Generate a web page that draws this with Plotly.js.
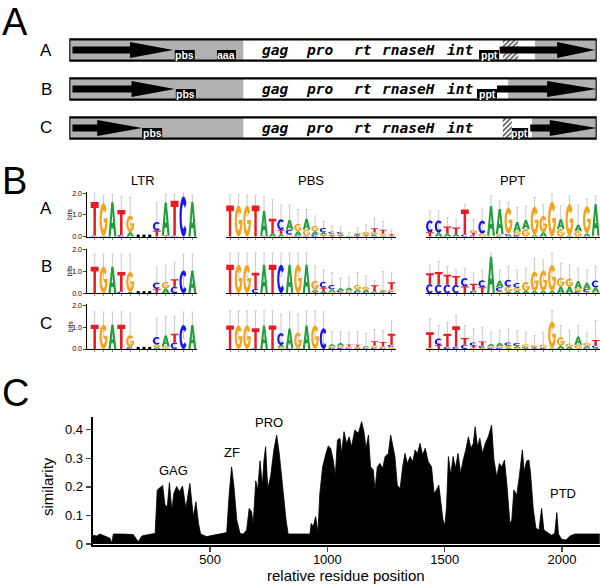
<!DOCTYPE html>
<html><head><meta charset="utf-8">
<script src="https://cdn.plot.ly/plotly-3.0.1.min.js"></script>
<style>html,body{margin:0;padding:0;background:#fff}#chart{width:600px;height:584px}</style>
</head><body><div id="chart"></div>
<script>
// ================= DATA =================
// Panel C: similarity profile
const posX = [0,17,31,52,74,81,88,130,173,194,209,237,266,275,287,298,308,318,327,337,346,358,369,383,397,414,429,440,451,460,485,514,542,571,582,592,602,614,628,642,656,667,677,684,695,703,713,723,730,737,746,758,772,784,795,809,824,833,869,926,931,940,950,960,968,980,994,1004,1014,1025,1034,1043,1054,
1061,1071,1082,1093,1103,1117,1132,1146,1156,1165,1175,1184,1196,1203,1213,1224,1236,1246,1260,1270,1279,1288,1298,1310,1321,1331,1341,1353,1364,1374,1384,1395,1406,1417,1430,1444,1455,1465,1475,1484,1493,1501,1508,1516,1526,1536,1546,1557,1568,1579,1590,1601,1612,1622,1630,1640,1650,1661,1673,1686,1700,1710,1722,1733,1744,1755,1766,1778,1786,1795,1807,1818,1831,1839,1849,1859,1866,1878,1889,1902,1913,1923,1937,1955,1969,1978,1985,1998,2017,2034,2055,2161];
const simY = [0.031,0.028,0.035,0.028,0.02,0.003,0.035,0.035,0.033,0.008,0.028,0.033,0.037,0.189,0.198,0.205,0.137,0.131,0.215,0.119,0.178,0.201,0.183,0.203,0.125,0.212,0.096,0.148,0.072,0.035,0.026,0.03,0.035,0.04,0.178,0.27,0.2,0.084,0.037,0.035,0.049,0.125,0.113,0.072,0.221,0.189,0.291,0.206,0.294,0.34,0.194,0.235,0.329,0.381,0.317,0.201,0.084,0.035,0.035,0.035,0.072,0.061,0.096,0.043,0.178,0.27,0.317,0.343,0.335,0.294,0.24,0.364,0.37,
0.317,0.393,0.352,0.375,0.34,0.399,0.387,0.428,0.393,0.335,0.381,0.27,0.259,0.189,0.27,0.282,0.265,0.306,0.317,0.381,0.34,0.306,0.206,0.194,0.27,0.317,0.282,0.306,0.288,0.329,0.317,0.352,0.311,0.335,0.288,0.27,0.178,0.189,0.206,0.142,0.084,0.066,0.131,0.306,0.242,0.306,0.265,0.317,0.248,0.294,0.329,0.375,0.335,0.352,0.41,0.34,0.37,0.317,0.352,0.375,0.416,0.294,0.235,0.282,0.27,0.294,0.201,0.072,0.084,0.189,0.171,0.235,0.329,0.253,0.29,0.294,0.248,0.119,0.055,0.049,0.125,0.049,0.04,0.031,0.037,0.11,0.035,0.017,0.014,0.028,0.035,0.035];
const simXTicks = [500,1000,1500,2000];
const simYTicks = [0,0.1,0.2,0.3,0.4];
const simYTickText = ['0','0.1','0.2','0.3','0.4'];
const domainNames = ['GAG','ZF','PRO','RT','RNaseH','INT','PTD'];
const domainX = [343,592,752,1079,1323,1679,2005];
const domainY = [0.256,0.321,0.425,0.465,0.451,0.462,0.178];

// Panel A: element maps (positions in % of element length)
const rowNames = ['A','B','C'];
const ltr5End = [33.0,33.0,33.0];
const ltr3Start = [88.3,83.2,87.7];
const arrow5 = [[0.6,11.5,19.7],[0.6,11.8,20.0],[0.6,5.3,13.8]];   // shaft start, head start, tip
const arrow3 = [[81.6,92.5,99.7],[81.1,90.6,100],[87.4,91.1,100]];
const pbsBox = [[20.0,23.8],[20.2,24.0],[13.8,17.6]];
const pptBox = [[77.7,81.5],[77.3,81.1],[83.9,87.0]];
const aaaBox = [[28.0,31.6],null,null];
const hatchBox = [[82.2,85.1],null,[82.2,83.9]];
const geneNames = ['gag','pro','rt','rnaseH','int'];
const genePos = [39.0,47.5,55.7,64.4,74.1];

// Panel B: sequence logos (bits per base per column)
const logoTitles = ['LTR','PBS','PPT'];
const ltrA = [{T:1.55,C:0.05},{G:1.5,A:0.04},{A:1.58},{T:1.15,C:0.08},{G:0.77,A:0.2},{},{},{C:0.4,T:0.28},{A:1.52,T:0.05},{T:1.6,C:0.05},{C:1.85},{A:1.6}];
const ltrB = [{T:1.22},{G:1.22},{A:1.22},{T:0.9,C:0.08},{G:0.92,A:0.06},{},{},{C:0.3,T:0.2},{G:0.3,A:0.22},{T:0.35,C:0.3},{C:1.05},{A:1.05}];
const ltrC = [{T:1.12},{G:1.12},{A:1.12},{T:1.12},{G:0.55,C:0.08},{},{},{C:0.35,G:0.12,A:0.08},{A:0.5,G:0.12},{T:0.4,C:0.3},{C:1.1},{A:1.1}];
const pbsA = [{T:1.43},{G:1.43},{G:1.43},{T:1.43},{A:1.15,T:0.03},{T:0.65,A:0.17},{C:0.5,T:0.2,A:0.1},{A:0.45,C:0.22,G:0.1},{G:0.35,A:0.2,C:0.05},{A:0.5,G:0.27,C:0.05},{G:0.25,A:0.15,C:0.1},{C:0.2,A:0.1,T:0.05,G:0.05},{C:0.08,G:0.07,A:0.05,T:0.03},{C:0.07,G:0.06,A:0.05,T:0.04},{A:0.02,G:0.01},{A:0.05,G:0.05,C:0.04,T:0.03},{G:0.12,T:0.05,A:0.05},{T:0.18,G:0.1,C:0.06,A:0.05},{T:0.18,G:0.08,A:0.06},{T:0.06,A:0.03,G:0.03}];
const pbsB = [{T:1.31},{G:1.31},{G:1.31},{T:0.75,C:0.2},{A:1.31},{T:1.31},{C:1.31},{A:1.31},{G:1.31},{A:1.31},{G:0.4,A:0.12,T:0.06},{C:0.28,T:0.15,A:0.1},{C:0.2,A:0.12,G:0.06},{A:0.12,C:0.06,G:0.05},{A:0.12,G:0.1,C:0.04},{G:0.2,A:0.12,C:0.06},{G:0.15,A:0.1,C:0.05},{T:0.28,A:0.05,C:0.04},{A:0.05,G:0.05,C:0.04,T:0.04},{T:0.33,G:0.1,C:0.08}];
const pbsC = [{T:1.08},{G:1.08},{G:1.08},{T:0.92,C:0.03},{A:1.08},{T:1.08},{C:0.55,A:0.1,G:0.08},{A:0.9,C:0.04},{G:0.72,A:0.04},{A:1.08},{G:1.08},{C:0.95},{A:0.1,G:0.07,C:0.05},{A:0.13,G:0.1,C:0.05},{T:0.1,G:0.08,C:0.03},{T:0.1,A:0.05,G:0.05},{A:0.05,C:0.04,G:0.04},{T:0.2,G:0.1,C:0.06},{T:0.2,G:0.08,C:0.04},{T:0.5,G:0.1,C:0.1}];
const pptA = [{C:0.55,T:0.2},{C:0.55,A:0.2},{T:0.32,A:0.15},{T:0.3,A:0.12},{T:1.15,C:0.1},{T:0.12,G:0.12,C:0.06},{C:0.6,G:0.14},{A:1.37,G:0.04},{A:1.15,G:0.08,C:0.04},{G:1.2,C:0.08,A:0.05},{A:0.45,G:0.15,C:0.08},{A:0.42,G:0.35},{G:1.3,A:0.08},{G:0.75,A:0.2},{G:1.6},{A:0.45,G:0.35},{G:1.45,A:0.05},{A:0.3,G:0.25},{G:1.25,A:0.15},{A:1.45,G:0.04}];
const pptB = [{T:0.5,C:0.42},{T:0.58,C:0.4},{T:0.45,C:0.4},{T:0.42,C:0.38},{C:0.38,T:0.32},{T:0.3,A:0.08,C:0.06},{C:0.32,T:0.28},{A:1.68},{A:0.3,C:0.2,G:0.08},{C:0.32,G:0.22,A:0.08},{C:0.22,G:0.15,A:0.1},{G:0.42,A:0.1},{G:0.9,A:0.1},{G:0.95,A:0.1},{G:1.2,A:0.1},{G:0.42,A:0.3},{G:0.38,A:0.3},{A:0.35,G:0.12,C:0.1},{A:0.28,C:0.15,G:0.05},{C:0.32,A:0.22,G:0.05}];
const pptC = [{T:0.72,G:0.05},{C:0.3,T:0.18},{T:0.6,C:0.1},{T:0.95,C:0.1},{T:0.3,C:0.2},{C:0.15,T:0.1,G:0.05},{T:0.2,C:0.1,G:0.05},{A:0.1,G:0.08,C:0.05},{A:0.15,G:0.08,C:0.05},{C:0.15,G:0.1,A:0.05},{C:0.15,A:0.08,G:0.05},{G:0.12,A:0.05,C:0.05},{G:0.06,C:0.05,A:0.04,T:0.03},{G:0.15,C:0.05},{G:1.22,A:0.04},{G:0.4,A:0.15},{G:0.15,A:0.1},{A:0.38,G:0.2},{G:0.15,A:0.1,C:0.04},{T:0.25,C:0.1,A:0.06}];
// error bar tops (bits)
const ltrAErr = [2.0,1.9,1.95,1.85,1.8,0,0,1.55,1.95,1.95,2.0,1.9];
const ltrBErr = [1.8,1.8,1.8,1.8,1.8,0,0,1.2,1.3,1.4,1.8,1.8];
const ltrCErr = [1.7,1.7,1.7,1.7,1.65,0,0,1.4,1.5,1.5,1.7,1.7];
const pbsAErr = [1.92,1.92,1.9,1.9,1.85,1.7,1.45,1.45,1.25,1.25,0.95,0.7,0.5,0.45,0.2,0.4,0.55,0.85,0.7,0.3];
const pbsBErr = [1.84,1.84,1.84,1.84,1.84,1.84,1.84,1.84,1.84,1.84,1.25,1.07,0.95,0.7,0.75,0.95,0.8,0.6,1.0,0.95];
const pbsCErr = [1.75,1.75,1.75,1.75,1.75,1.75,1.6,1.7,1.6,1.75,1.75,1.7,0.8,0.8,0.75,0.8,0.7,0.9,0.85,1.3];
const pptAErr = [1.18,1.18,0.88,0.8,1.49,0.8,1.26,1.87,1.64,1.57,1.34,1.41,1.8,1.49,1.95,1.41,1.87,1.45,1.72,1.87];
const pptBErr = [1.3,1.46,1.23,1.07,1.15,0.92,1.07,1.84,1.07,1.23,1.07,1.15,1.61,1.53,1.84,1.38,1.3,1.15,1.07,1.23];
const pptCErr = [1.38,1.07,1.23,1.54,1.07,0.92,1.0,0.77,0.85,0.92,0.85,0.77,0.61,0.77,1.77,1.07,0.85,1.07,0.77,1.3];
const gapDots = [5.9,6.55,7.2];

// ================= LAYOUT HELPERS =================
const W = 600, H = 584;
const fx = p => p / W, fy = p => 1 - p / H;
const FONT = 'Liberation Sans, Arial, sans-serif';
const letterColor = {A:'#1f9e3a', C:'#1a1ae8', G:'#f5a31a', T:'#e81c22'};

function arc(cx, cy, rx, ry, a0, a1, n) {
  const pts = [];
  for (let i = 0; i <= n; i++) {
    const a = (a0 + (a1 - a0) * i / n) * Math.PI / 180;
    pts.push([cx + rx * Math.cos(a), cy + ry * Math.sin(a)]);
  }
  return pts;
}
const GLYPH = {
  T: [[[0,1],[1,1],[1,0.82],[0.66,0.82],[0.66,0],[0.34,0],[0.34,0.82],[0,0.82]]],
  A: [[[0,0],[0.36,1],[0.64,1],[1,0],[0.72,0],[0.635,0.24],[0.365,0.24],[0.28,0]],[[0.41,0.4],[0.59,0.4],[0.5,0.72]]],
  C: [arc(.5,.5,.5,.5,42,318,28).concat(arc(.5,.5,.22,.3,318,42,28))],
  G: [arc(.5,.5,.5,.5,40,360,28).concat([[1,0.54],[0.52,0.54],[0.52,0.41],[0.73,0.41]], arc(.5,.5,.22,.3,330,40,28))]
};
function glyphPath(letter, xc, y0, h, w) {
  return GLYPH[letter].map(poly => poly.map((p, i) =>
    (i ? 'L' : 'M') + (xc - w/2 + p[0]*w).toFixed(4) + ',' + (y0 + p[1]*h).toFixed(4)).join(' ') + ' Z').join(' ');
}

const traces = [];
const shapes = [];
const annotations = [];
const layout = {
  width: W, height: H, margin: {l:0, r:0, t:0, b:0},
  paper_bgcolor: 'white', plot_bgcolor: 'rgba(0,0,0,0)',
  showlegend: false, font: {family: FONT, color: 'black'},
  shapes, annotations
};
const C_ = {xanchor:'center', yanchor:'middle', showarrow:false};

// ================= PANEL C =================
traces.push({type:'scatter', x: posX, y: simY, mode:'lines', line:{color:'black', width:0.8},
  fill:'tozeroy', fillcolor:'black', xaxis:'x', yaxis:'y', hoverinfo:'skip'});
layout.xaxis = {domain:[fx(92.7), 1], range:[0, 2162], anchor:'y', tickvals: simXTicks,
  ticks:'outside', ticklen:5, tickwidth:1.5, showline:true, linewidth:2, linecolor:'black', ticklabelstandoff:-4,
  tickfont:{size:13, family:FONT}, showgrid:false, zeroline:false, fixedrange:true};
layout.yaxis = {domain:[fy(544.9), fy(416.8)], range:[-0.003, 0.445], anchor:'x', tickvals: simYTicks,
  ticktext: simYTickText, ticks:'outside', ticklen:5, tickwidth:1.5, showline:true, linewidth:2,
  linecolor:'black', tickfont:{size:13, family:FONT}, showgrid:false, zeroline:false, fixedrange:true};
domainNames.forEach((n, i) => annotations.push(Object.assign({xref:'x', yref:'y', x: domainX[i], y: domainY[i],
  text: n, font:{size:13, family:FONT}}, C_)));
annotations.push(Object.assign({xref:'paper', yref:'paper', x: fx(346), y: fy(575.5), text:'relative residue position',
  font:{size:15, family:FONT}}, C_));
annotations.push(Object.assign({xref:'paper', yref:'paper', x: fx(48), y: fy(487), text:'similarity', textangle:-90,
  font:{size:15, family:FONT}}, C_));

// ================= PANEL A =================
layout.xaxis2 = {domain:[fx(69.3), fx(596.7)], range:[0,100], anchor:'y2', visible:false, fixedrange:true};
layout.yaxis2 = {domain:[fy(150), fy(30)], range:[-0.564, 2.513], anchor:'x2', visible:false, fixedrange:true};
const HH = 0.274, SH = 0.09, AH = 0.205, BOXB = -0.245;
const GRAY = '#b1b1b1';
rowNames.forEach((name, r) => {
  const yc = 2 - r;
  const ref = {xref:'x2', yref:'y2'};
  shapes.push(Object.assign({type:'rect', x0:0, x1:100, y0:yc-HH, y1:yc+HH, fillcolor:GRAY, line:{width:0}, layer:'below'}, ref));
  shapes.push(Object.assign({type:'rect', x0:ltr5End[r], x1:ltr3Start[r], y0:yc-HH, y1:yc+HH, fillcolor:'white', line:{width:0}, layer:'below'}, ref));
  if (hatchBox[r]) {
    const [h0, h1] = hatchBox[r];
    traces.push({type:'scatter', x:[h0,h1,h1,h0,h0], y:[yc-HH,yc-HH,yc+HH,yc+HH,yc-HH], mode:'lines',
      line:{width:0, color:'rgba(0,0,0,0)'}, fill:'toself', fillcolor:'white',
      fillpattern:{shape:'/', fgcolor:'#555', bgcolor:'white', size:3.5, solidity:0.45},
      xaxis:'x2', yaxis:'y2', hoverinfo:'skip'});
  }
  [arrow5[r], arrow3[r]].forEach(a => {
    const [s, h, t] = a;
    shapes.push(Object.assign({type:'path', path:`M ${s},${yc+SH} L ${h},${yc+SH} L ${h},${yc+AH} L ${t},${yc} L ${h},${yc-AH} L ${h},${yc-SH} L ${s},${yc-SH} Z`,
      fillcolor:'black', line:{width:0}}, ref));
  });
  [[pbsBox[r],'pbs'],[pptBox[r],'ppt'],[aaaBox[r],'aaa']].forEach(([b, label]) => {
    if (!b) return;
    shapes.push(Object.assign({type:'rect', x0:b[0], x1:b[1], y0:yc+BOXB, y1:yc, fillcolor:'black', line:{width:0}}, ref));
    annotations.push(Object.assign({x:(b[0]+b[1])/2, y:yc+BOXB/2, text:label,
      font:{size:10.5, color:'white', family:FONT, weight:'bold'}}, ref, C_));
  });
  shapes.push(Object.assign({type:'rect', x0:0, x1:100, y0:yc-HH, y1:yc+HH, fillcolor:'rgba(0,0,0,0)', line:{width:2.2, color:'black'}}, ref));
  geneNames.forEach((g, i) => annotations.push(Object.assign({x: genePos[i], y: yc, text: g,
    font:{family:'DejaVu Sans Mono, monospace', size:14.5, weight:'bold', style:'italic', color:'black'}}, ref, C_)));
  annotations.push(Object.assign({xref:'paper', yref:'y2', x: fx(46), y: yc, text: name, font:{size:17, family:FONT}}, C_));
});

// ================= PANEL B =================
const logos = [[ltrA, pbsA, pptA], [ltrB, pbsB, pptB], [ltrC, pbsC, pptC]];
const logoErrs = [[ltrAErr, pbsAErr, pptAErr], [ltrBErr, pbsBErr, pptBErr], [ltrCErr, pbsCErr, pptCErr]];
const colDomains = [[87.3,196.8],[225.8,395.8],[425.6,600]];
const colRanges = [[0.17,12.5],[0.5,20.5],[0.5,20.5]];
const rowBase = [236.7, 293.3, 349];
const bitPx = 21.75, YTOP = 2.05;
let axN = 3;
logos.forEach((row, r) => {
  row.forEach((logo, c) => {
    const n = axN++;
    const xr = 'x' + n, yr = 'y' + n;
    const cols = logo.map((_, i) => i + 1);
    layout['xaxis' + n] = {domain:[fx(colDomains[c][0]), fx(colDomains[c][1])], range: colRanges[c], anchor: yr,
      showline:true, linecolor:'black', linewidth:1, ticks:'outside', ticklen:2, tickcolor:'#888', tickwidth:1,
      tickvals: cols, showticklabels:false, showgrid:false, zeroline:false, fixedrange:true};
    const ya = {domain:[fy(rowBase[r]), fy(rowBase[r] - YTOP*bitPx)], range:[0, YTOP], anchor: xr,
      showgrid:false, zeroline:false, fixedrange:true};
    if (c === 0) {
      Object.assign(ya, {showline:true, linecolor:'black', linewidth:1, ticks:'outside', ticklen:3, tickwidth:1,
        tickvals:[0,1,2], ticktext:['0.0','1.0','2.0'], tickfont:{size:7, family:FONT}});
      annotations.push(Object.assign({xref:'paper', yref: yr, x: fx(70), y: 1, text:'bits', textangle:-90,
        font:{size:7, family:FONT}}, C_));
      traces.push({type:'scatter', x: gapDots, y: gapDots.map(() => 0.03), mode:'markers',
        marker:{symbol:'square', size:3, color:'black'}, xaxis: xr, yaxis: yr, hoverinfo:'skip', cliponaxis:false});
    } else {
      Object.assign(ya, {visible:false});
    }
    layout['yaxis' + n] = ya;
    // error bars
    const ex = [], ey = [], ee = [];
    logo.forEach((col, i) => {
      const tot = Object.values(col).reduce((a, b) => a + b, 0);
      if (tot > 0) { ex.push(i + 1); ey.push(tot); ee.push(Math.max(0, logoErrs[r][c][i] - tot)); }
    });
    traces.push({type:'scatter', x: ex, y: ey, mode:'markers', marker:{size:1, opacity:0},
      error_y:{type:'data', array: ee, visible:true, color:'#c9c9c9', thickness:1, width:1.2},
      xaxis: xr, yaxis: yr, hoverinfo:'skip'});
    // letters
    logo.forEach((col, i) => {
      const entries = Object.entries(col).sort((a, b) => a[1] - b[1]);
      let y0 = 0;
      entries.forEach(([L, h]) => {
        shapes.push({type:'path', xref: xr, yref: yr, path: glyphPath(L, i + 1, y0, h, 0.9),
          fillcolor: letterColor[L], line:{width:0}, fillrule:'evenodd'});
        y0 += h;
      });
    });
  });
});
logoTitles.forEach((t, c) => annotations.push(Object.assign({xref:'paper', yref:'paper',
  x: fx([143, 311, 512][c]), y: fy(180), text: t, font:{size:13, family:FONT}}, C_)));
rowNames.forEach((name, r) => annotations.push(Object.assign({xref:'paper', yref:'paper', x: fx(46), y: fy([208.3, 266.7, 323.3][r]),
  text: name, font:{size:17, family:FONT}}, C_)));

// ================= PANEL LETTERS =================
[['A', 22], ['B', 181], ['C', 393]].forEach(([t, y]) => annotations.push({xref:'paper', yref:'paper',
  x: 0, xanchor:'left', y: fy(y), yanchor:'middle', text: t, showarrow:false, font:{size:38, family:FONT}}));

Plotly.newPlot('chart', traces, layout, {displayModeBar:false, staticPlot:true});
</script></body></html>
